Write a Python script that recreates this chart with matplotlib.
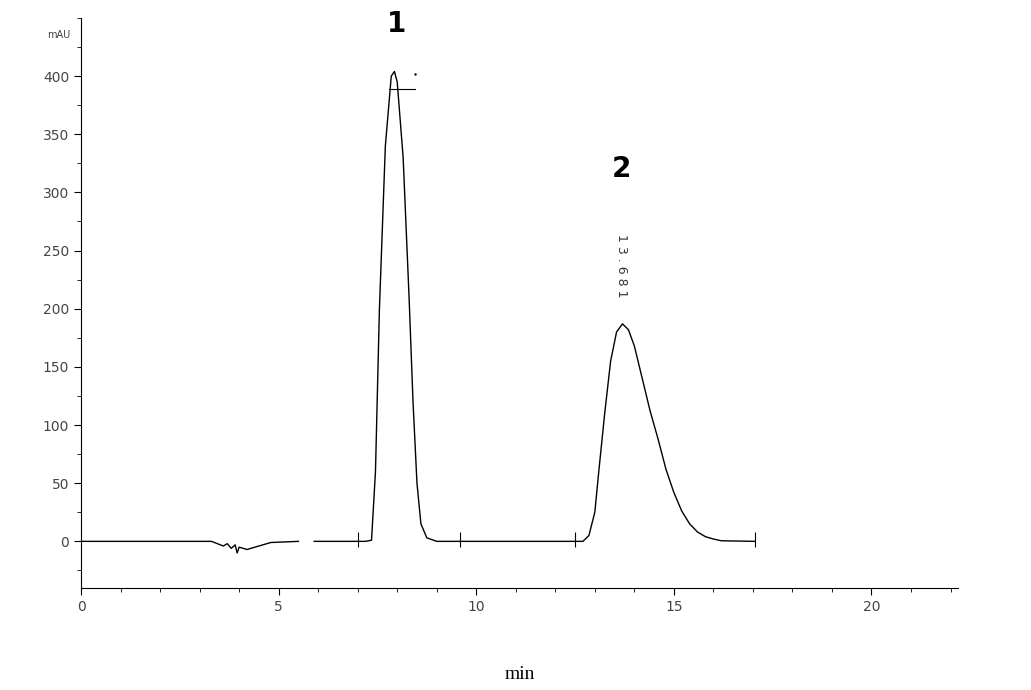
import numpy as np
import matplotlib.pyplot as plt

# trace (min, mAU); nan = gap in the trace
time = [0, 3.3, 3.45, 3.6, 3.7, 3.8, 3.9, 3.95, 4.0, 4.2, 4.5, 4.8, 5.5, np.nan,
        5.9, 7.2, 7.35, 7.45, 7.55, 7.7, 7.85, 7.93, 8.0, 8.15, 8.3, 8.4,
        8.5, 8.6, 8.75, 9.0, 12.7, 12.85, 13.0, 13.1, 13.25, 13.4, 13.55,
        13.7, 13.85, 14.0, 14.2, 14.4, 14.6, 14.8, 15.0, 15.2, 15.4, 15.6, 15.8,
        16.0, 16.2, 17.05]
signal = [0, 0, -2, -4, -2, -6, -3, -10, -5, -7, -4, -1, 0, np.nan,
          0, 0, 1, 60, 200, 340, 400, 404, 395, 330, 210, 120,
          50, 15, 3, 0, 0, 5, 25, 60, 110, 155, 180,
          187, 182, 168, 140, 112, 88, 62, 42, 26, 15, 8, 4,
          2, 0.5, 0]

event_marks = [7.0, 9.6, 12.5, 17.05]
peak_labels = ["1", "2"]
peak_label_pos = [(7.98, 445), (13.68, 320)]
rt_label = "1 3 . 6 8 1"
rt_label_pos = (13.68, 264)

fig = plt.figure(figsize=(10.31, 6.9), dpi=100)
ax = fig.add_axes([0.0786, 0.148, 0.851, 0.826])

ax.plot(time, signal, color="black", lw=1.0)
ax.vlines(event_marks, -5, 8, color="black", lw=0.8)
ax.plot([7.8, 8.45], [389, 389], color="black", lw=0.8)
ax.plot([8.45], [402], marker=".", ms=1.5, color="black")

ax.set_xlim(0, 22.2)
ax.set_ylim(-40, 450)
ax.spines["top"].set_visible(False)
ax.spines["right"].set_visible(False)
ax.set_xticks([0, 5, 10, 15, 20])
ax.set_xticks(np.arange(0, 22.2, 1), minor=True)
ax.set_yticks(np.arange(0, 401, 50))
ax.set_yticks(np.arange(-25, 451, 25), minor=True)
ax.tick_params(labelsize=10, length=5, direction="out", colors="black",
               labelcolor="#444444")
ax.tick_params(which="minor", length=3)

fig.text(0.046, 0.945, "mAU", fontsize=7, color="#444444")
ax.set_xlabel("min", fontsize=14, fontfamily="Liberation Serif", labelpad=38)

for lab, (x, y) in zip(peak_labels, peak_label_pos):
    ax.text(x, y, lab, fontsize=20, fontweight="bold", ha="center", va="center")
ax.text(rt_label_pos[0], rt_label_pos[1], rt_label, rotation=270, fontsize=9,
        ha="center", va="top", color="#333333")

fig.savefig("out.png", dpi=100)
